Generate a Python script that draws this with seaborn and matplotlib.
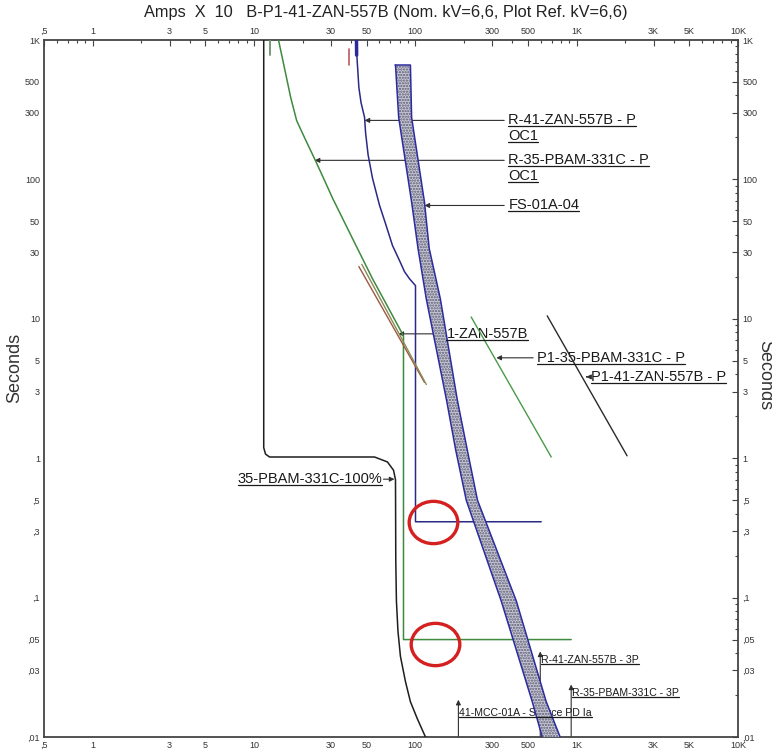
import numpy as np
import pandas as pd
import seaborn as sns
import matplotlib.pyplot as plt
from matplotlib.path import Path
from matplotlib.transforms import Affine2D
from matplotlib.lines import Line2D

# curves: amps (x10) vs seconds
lrc_amps = [11.5, 11.5, 11.8, 12.5, 55.9, 67.2, 73.3, 75.4, 75.7, 76.4, 78.1, 80.9, 86.9, 93.3, 103, 117]
lrc_secs = [1000, 1.19, 1.07, 1.02, 1.02, 0.94, 0.82, 0.70, 0.184, 0.0944, 0.0574, 0.0379, 0.025, 0.0179, 0.0135, 0.0097]

r41_amps = [43.2, 43.5, 44.7, 46.1, 48.5, 49.2, 51.0, 54.3, 60.0, 65.3, 72.2, 79.8, 85.7, 92.0, 100.3, 100.3, 603]
r41_secs = [1000, 754, 457, 356, 278, 216, 150, 102, 65.3, 48.4, 33.6, 26.2, 21.8, 19.4, 17.3, 0.35, 0.35]

r35_amps = [14.2, 15.9, 16.9, 18.4, 20.6, 23.8, 27.0, 30.7, 35.4, 40.8, 47.1, 54.3, 63.5, 82.1, 84.5, 84.5, 925]
r35_secs = [1000, 540, 387, 264, 199, 140, 102, 73.4, 52.6, 37.7, 27.0, 19.4, 13.9, 8.03, 7.5, 0.05, 0.05]

fuse_secs = [660, 278, 68.7, 31.9, 13.9, 2.63, 1.146, 0.499, 0.0944, 0.0179, 0.01]
fuse_left = [75.4, 78.9, 94.9, 104, 117, 156, 178, 207, 341, 531, 612]
fuse_right = [93.3, 94.9, 114, 122, 143, 182, 210, 243, 423, 648, 790]

dmg_a_amps = [44.7, 114]
dmg_a_secs = [23.7, 3.5]
dmg_b_amps = [46.6, 117]
dmg_b_secs = [24.6, 3.38]

p35_amps = [222, 696]
p35_secs = [10.3, 1.02]
p41_amps = [657, 2054]
p41_secs = [10.5, 1.04]

stub_green_amps = [12.5, 12.5]
stub_green_secs = [1000, 779]
stub_red_amps = [38.6, 38.6]
stub_red_secs = [861, 660]
r41_top_amps = [43.2, 43.3]
r41_top_secs = [1000, 779]

# labels with horizontal leaders
lbl_text = ['R-41-ZAN-557B - P', 'R-35-PBAM-331C - P', 'FS-01A-04', '1-ZAN-557B',
            'P1-35-PBAM-331C - P', 'P1-41-ZAN-557B - P']
lbl_x = [377, 377, 377, 156, 570, 1230]
lbl_y = [265, 137, 65, 7.8, 5.25, 3.83]
lbl_tip = [48.5, 23.8, 114, 78.6, 318, 1146]
lbl_line2 = ['OC1', 'OC1', '', '', '', '']

# labels with vertical arrows from the bottom
vlbl_text = ['R-41-ZAN-557B - 3P', 'R-35-PBAM-331C - 3P', '41-MCC-01A - Source PD Ia']
vlbl_x = [595, 925, 185]
vlbl_tip = [0.0411, 0.0238, 0.0185]
vlbl_y = [0.0354, 0.0208, 0.0149]

circ_x = [129.5, 133]
circ_y = [0.346, 0.0462]

xtick_vals = [0.5, 1, 3, 5, 10, 30, 50, 100, 300, 500, 1000, 3000, 5000, 10000]
xtick_lbls = [',5', '1', '3', '5', '10', '30', '50', '100', '300', '500', '1K', '3K', '5K', '10K']
ytick_vals = [1000, 500, 300, 100, 50, 30, 10, 5, 3, 1, 0.5, 0.3, 0.1, 0.05, 0.03, 0.01]
ytick_lbls = ['1K', '500', '300', '100', '50', '30', '10', '5', '3', '1', ',5', ',3', ',1', ',05', ',03', ',01']

sns.set_theme(style='white')
plt.rcParams['font.family'] = ['Liberation Sans', 'DejaVu Sans']
plt.rcParams['hatch.linewidth'] = 1.1

fig = plt.figure(figsize=(7.72, 7.5), dpi=100)
ax = fig.add_axes([44/772, 13/750, 694/772, 697/750])
ax.set_xscale('log')
ax.set_yscale('log')
ax.set_xlim(0.5, 10000)
ax.set_ylim(0.01, 1000)

def line(xs, ys, color, lw=1.0, z=3):
    sns.lineplot(x=xs, y=ys, sort=False, estimator=None, color=color, lw=lw, ax=ax, zorder=z)

line(lrc_amps, lrc_secs, '#1e1e1e', 1.1)
line(r41_amps, r41_secs, '#2a2a85', 1.1)
line(r41_top_amps, r41_top_secs, '#2a2a9a', 2.5)
line(r35_amps, r35_secs, '#3f8a3f', 1.1)
line(stub_green_amps, stub_green_secs, '#6d8f6d', 1.3)
line(stub_red_amps, stub_red_secs, '#c06868', 1.3)
line(dmg_a_amps, dmg_a_secs, '#9a5a40', 1.0)
line(dmg_b_amps, dmg_b_secs, '#8a8a5a', 1.0)
line(p35_amps, p35_secs, '#4a9a4a', 1.0)
line(p41_amps, p41_secs, '#2a2a2a', 1.0)

# fuse band
ax.fill_betweenx(fuse_secs, fuse_left, fuse_right, facecolor='#c9c9d6',
                 edgecolor='#5a5a72', hatch='......', linewidth=0, zorder=4)
line(fuse_left, fuse_secs, '#2c2ca0', 1.1, z=5)
line(fuse_right, fuse_secs, '#2c2ca0', 1.1, z=5)
line([fuse_left[0], fuse_right[0]], [fuse_secs[0]] * 2, '#2c2ca0', 1.1, z=5)

# red circles (slightly wide ellipses)
ell = Path.unit_circle().transformed(Affine2D().scale(1.0, 0.87))
ax.plot(circ_x, circ_y, ls='none', marker=ell, ms=35, mfc='none', mec='#d42020', mew=2.4, zorder=6)

arrow_kw = dict(arrowstyle='-|>', color='#303030', lw=0.8, mutation_scale=7, shrinkA=0, shrinkB=0)
underlined = []
for t, x, y, tip, l2 in zip(lbl_text, lbl_x, lbl_y, lbl_tip, lbl_line2):
    ax.annotate('', xy=(tip, y), xytext=(x / 1.06, y), arrowprops=arrow_kw, zorder=2)
    txt = ax.text(x, y, t, fontsize=10.5, color='#1a1a1a', va='center', ha='left', zorder=2)
    underlined.append(txt)
    if l2:
        t2 = ax.annotate(l2, xy=(x, y), xytext=(0, -11.5), textcoords='offset points',
                         fontsize=10.5, color='#1a1a1a', va='center', ha='left')
        underlined.append(t2)

# motor starting label
ax.annotate('', xy=(74.3, 0.707), xytext=(63.5, 0.707), arrowprops=arrow_kw)
txt = ax.text(62.6, 0.707, '35-PBAM-331C-100%', fontsize=10.5, color='#1a1a1a',
              va='center', ha='right', zorder=2)
underlined.append(txt)

for t, x, tip, y in zip(vlbl_text, vlbl_x, vlbl_tip, vlbl_y):
    ax.annotate('', xy=(x, tip), xytext=(x, 0.01), arrowprops=arrow_kw, zorder=2)
    txt = ax.text(x * 1.01, y, t, fontsize=7.6, color='#1a1a1a', va='center', ha='left', zorder=2)
    underlined.append(txt)

# ticks
ax.set_xticks(xtick_vals)
ax.set_xticklabels(xtick_lbls)
ax.set_yticks(ytick_vals)
ax.set_yticklabels(ytick_lbls)
ax.tick_params(which='both', direction='in', color='#444444', width=0.8,
               top=True, right=True, labeltop=True, labelright=True,
               labelsize=6.5, labelcolor='#333333', pad=3)
ax.tick_params(which='major', length=4)
ax.tick_params(which='minor', length=2.5)
ax.minorticks_on()
for s in ax.spines.values():
    s.set_color('#444444')
    s.set_linewidth(1.3)

fig.text(0.019, 0.51, 'Seconds', rotation=90, fontsize=13, color='#333333', ha='center', va='center')
fig.text(0.99, 0.50, 'Seconds', rotation=270, fontsize=13, color='#333333', ha='center', va='center')
fig.text(0.5, 0.984, 'Amps  X  10   B-P1-41-ZAN-557B (Nom. kV=6,6, Plot Ref. kV=6,6)',
         fontsize=11.8, color='#222222', ha='center', va='center')

fig.canvas.draw()
rend = fig.canvas.get_renderer()
inv = fig.transFigure.inverted()
for t in underlined:
    bb = t.get_window_extent(rend)
    (x0, y0), (x1, _) = inv.transform([(bb.x0, bb.y0 + 1), (bb.x1, bb.y0)])
    fig.add_artist(Line2D([x0, x1], [y0, y0], color='#1a1a1a', lw=0.9, zorder=t.get_zorder()))

fig.savefig('out.png', dpi=100)
